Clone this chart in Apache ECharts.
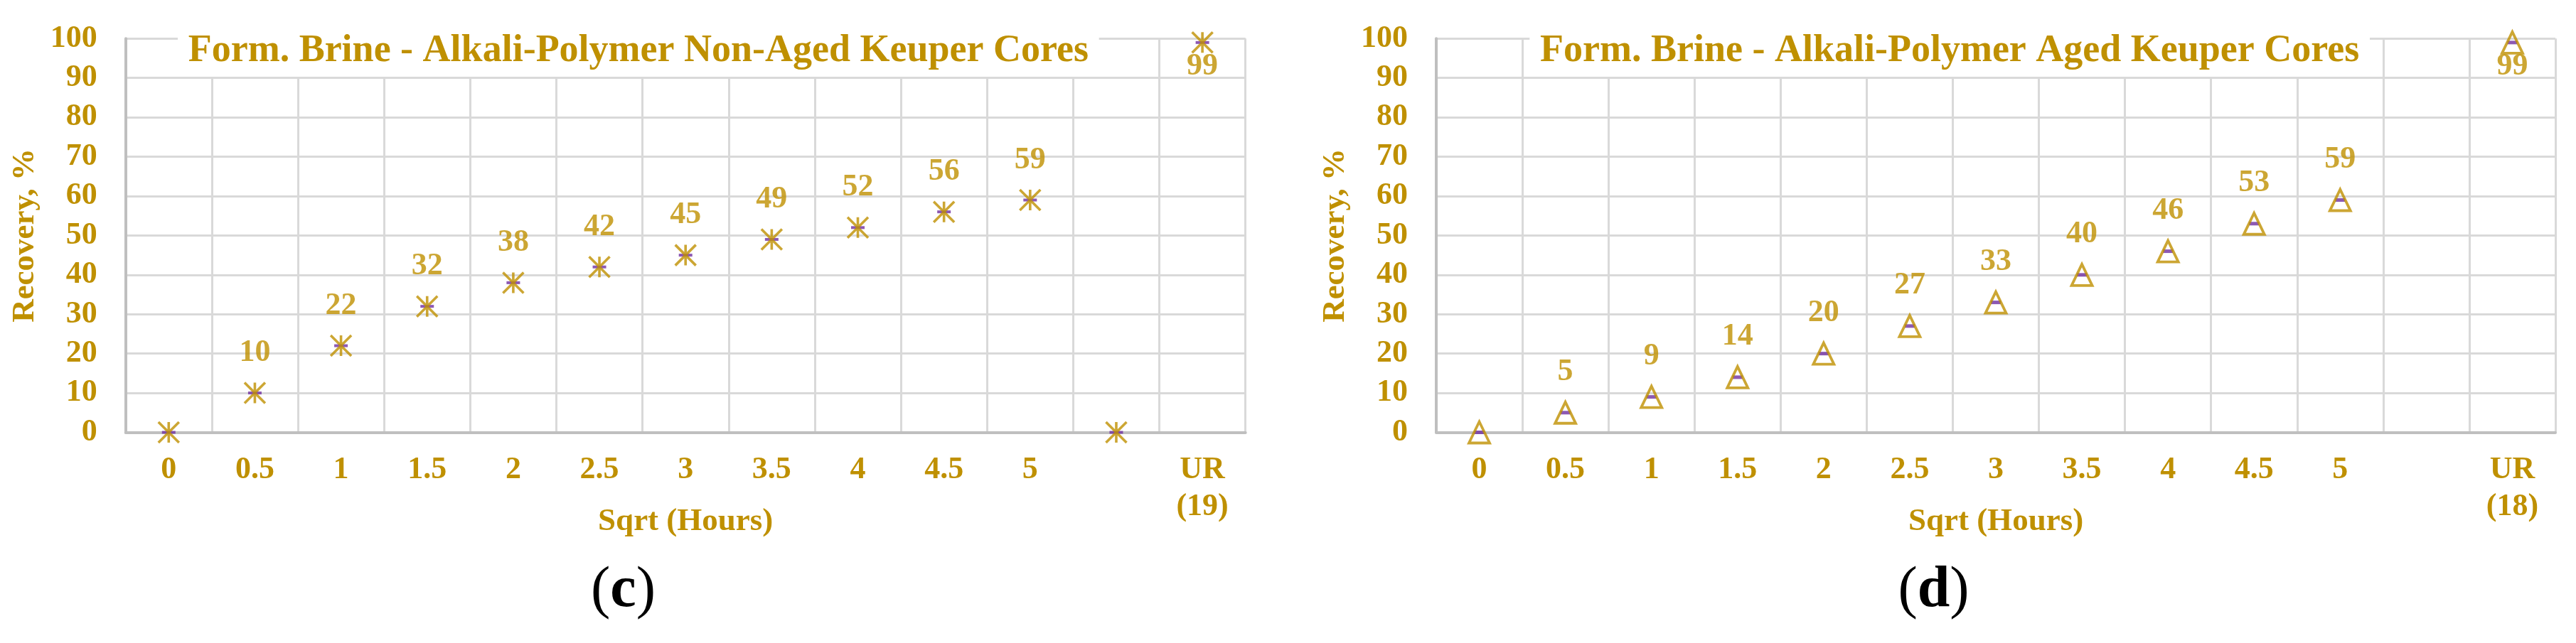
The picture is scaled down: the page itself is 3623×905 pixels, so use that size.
<!DOCTYPE html>
<html><head><meta charset="utf-8">
<script src="https://cdn.jsdelivr.net/npm/echarts@6/dist/echarts.min.js"></script>
<style>html,body{margin:0;padding:0;background:#fff;overflow:hidden}#c{width:3623px;height:905px}</style>
</head><body><div id="c"></div>
<script>
// ---- data ----
const categoriesC = ['0','0.5','1','1.5','2','2.5','3','3.5','4','4.5','5','','UR\n(19)'];
const categoriesD = ['0','0.5','1','1.5','2','2.5','3','3.5','4','4.5','5','','UR\n(18)'];
const recoveryC = [0,10,22,32,38,42,45,49,52,56,59,0,99];
const recoveryD = [0,5,9,14,20,27,33,40,46,53,59,null,99];
const yMin = 0, yMax = 100, yStep = 10;
const titleC = 'Form. Brine - Alkali-Polymer Non-Aged Keuper Cores';
const titleD = 'Form. Brine - Alkali-Polymer Aged Keuper Cores';
const xName = 'Sqrt (Hours)';
const yName = 'Recovery, %';
const captionC = 'c';
const captionD = 'd';

// ---- style ----
const GOLD = '#BF9000', PURPLE = '#7030A0', GRID = '#D9D9D9', AXIS = '#BFBFBF';
const FF = '"Liberation Serif","Times New Roman",serif';
const STAR = 'path://M0,0 L10,10 M10,0 L0,10 M5,0 L5,10';

const chart = echarts.init(document.getElementById('c'), null, {renderer: 'canvas', width: 3623, height: 905});

function xAxisFor(idx, cats) {
  return {
    type: 'category', gridIndex: idx, data: cats, boundaryGap: true,
    axisLine: {show: true, lineStyle: {color: AXIS, width: 4}},
    axisTick: {show: false},
    axisLabel: {interval: 0, color: GOLD, fontFamily: FF, fontWeight: 'bold', fontSize: 44, lineHeight: 52, margin: 27},
    splitLine: {show: true, interval: 0, lineStyle: {color: GRID, width: 3}},
    name: xName, nameLocation: 'middle', nameGap: 103, nameMoveOverlap: false,
    nameTextStyle: {color: GOLD, fontFamily: FF, fontWeight: 'bold', fontSize: 45, lineHeight: 45}
  };
}
function yAxisFor(idx) {
  return {
    type: 'value', gridIndex: idx, min: yMin, max: yMax, interval: yStep,
    axisLine: {show: true, lineStyle: {color: AXIS, width: 4}},
    axisTick: {show: false},
    axisLabel: {color: GOLD, fontFamily: FF, fontWeight: 'bold', fontSize: 44, margin: 40},
    splitLine: {show: true, lineStyle: {color: GRID, width: 3}},
    name: yName, nameLocation: 'middle', nameGap: 119, nameMoveOverlap: false,
    nameTextStyle: {color: GOLD, fontFamily: FF, fontWeight: 'bold', fontSize: 45, lineHeight: 45}
  };
}
const labelBase = {
  show: true, position: 'top', distance: 18, color: GOLD, fontFamily: FF, fontWeight: 'bold', fontSize: 44,
  formatter: p => (p.value ? String(p.value) : '')
};
function dataWithUR(arr) {
  return arr.map((v, i) => (i === arr.length - 1 ? {value: v, label: {position: 'bottom', distance: -5}} : v));
}

const option = {
  animation: false,
  backgroundColor: '#fff',
  title: [
    {text: titleC, left: 250, top: 43.5, padding: [2, 14.7, 8.5, 14.7], backgroundColor: '#fff',
     textStyle: {color: GOLD, fontFamily: FF, fontWeight: 'bold', fontSize: 54, lineHeight: 54}},
    {text: titleD, left: 2151.3, top: 43.5, padding: [2, 14.7, 8.5, 14.7], backgroundColor: '#fff',
     textStyle: {color: GOLD, fontFamily: FF, fontWeight: 'bold', fontSize: 54, lineHeight: 54}}
  ],
  grid: [
    {left: 176.7, top: 54.3, width: 1575, height: 554.2, containLabel: false, outerBoundsMode: 'none'},
    {left: 2020, top: 54.3, width: 1574, height: 554.2, containLabel: false, outerBoundsMode: 'none'}
  ],
  xAxis: [xAxisFor(0, categoriesC), xAxisFor(1, categoriesD)],
  yAxis: [yAxisFor(0), yAxisFor(1)],
  series: [
    // chart (c): purple centre bar under gold asterisk
    {type: 'scatter', xAxisIndex: 0, yAxisIndex: 0, data: recoveryC, symbol: 'rect', symbolSize: [19, 4],
     itemStyle: {color: PURPLE}, z: 3, silent: true},
    {type: 'scatter', xAxisIndex: 0, yAxisIndex: 0, data: dataWithUR(recoveryC), symbol: STAR, symbolSize: [29, 29],
     itemStyle: {color: 'rgba(0,0,0,0)', borderColor: GOLD, borderWidth: 3.6}, z: 4, label: labelBase},
    // chart (d): purple bar under open gold triangle
    {type: 'scatter', xAxisIndex: 1, yAxisIndex: 1, data: recoveryD, symbol: 'rect', symbolSize: [14, 5],
     itemStyle: {color: PURPLE}, z: 3, silent: true},
    {type: 'scatter', xAxisIndex: 1, yAxisIndex: 1, data: dataWithUR(recoveryD), symbol: 'triangle', symbolSize: [29, 30],
     itemStyle: {color: 'rgba(0,0,0,0)', borderColor: GOLD, borderWidth: 3.8}, z: 4, label: labelBase}
  ],
  graphic: [
    {type: 'text', x: 876.5, y: 832, z: 10,
     style: {text: '{p|(}{b|' + captionC + '}{p|)}', align: 'center', verticalAlign: 'middle', fill: '#000',
       rich: {p: {fontSize: 82, fontFamily: FF, fill: '#000'}, b: {fontSize: 82, fontFamily: FF, fontWeight: 'bold', fill: '#000'}}}},
    {type: 'text', x: 2719.5, y: 832, z: 10,
     style: {text: '{p|(}{b|' + captionD + '}{p|)}', align: 'center', verticalAlign: 'middle', fill: '#000',
       rich: {p: {fontSize: 82, fontFamily: FF, fill: '#000'}, b: {fontSize: 82, fontFamily: FF, fontWeight: 'bold', fill: '#000'}}}}
  ]
};
chart.setOption(option);
</script></body></html>
